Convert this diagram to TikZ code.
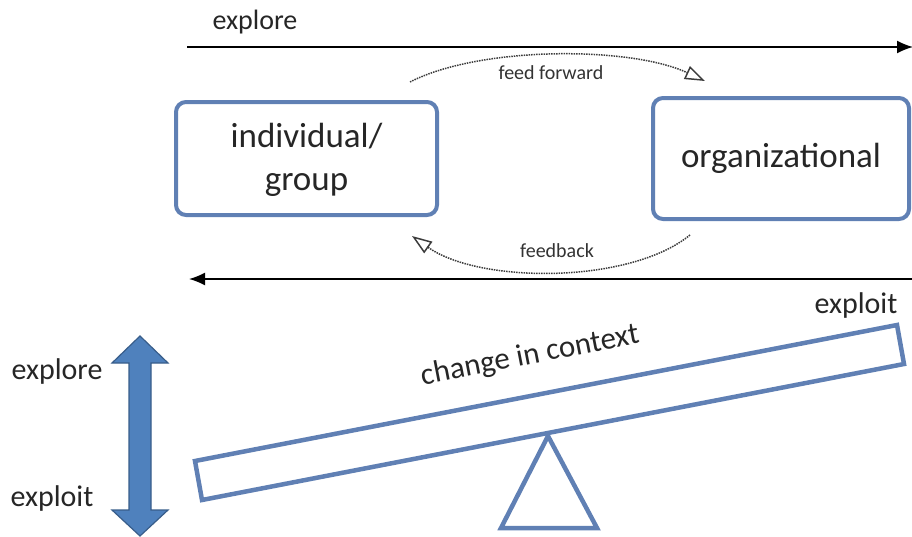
\documentclass[tikz,border=0pt]{standalone}
\usepackage{fontspec}
\setmainfont{Carlito}
\usetikzlibrary{arrows.meta}
\definecolor{boxblue}{RGB}{96,128,180}
\definecolor{arrfill}{RGB}{79,129,189}
\definecolor{arrline}{RGB}{56,93,138}
\definecolor{dotgray}{RGB}{60,60,60}
\tikzset{
  box/.style={draw=boxblue, line width=4pt, rounded corners=10pt, fill=white},
  boxtext/.style={font=\fontsize{35}{43}\selectfont, text=black!85, align=center},
  lbl/.style={font=\fontsize{30}{34}\selectfont, text=black!85, inner sep=0pt},
  small/.style={font=\fontsize{20}{24}\selectfont, text=black!80, inner sep=0pt},
  flow/.style={line width=1.6pt, -{Latex[length=16pt,width=13pt]}},
  loop/.style={draw=dotgray, line width=1.5pt, densely dotted, -{Triangle[open,length=20pt,width=14pt]}},
  plank/.style={draw=boxblue, line width=4.5pt, fill=white, line join=miter},
}
\begin{document}
\begin{tikzpicture}[x=1pt,y=-1pt]
\useasboundingbox (0,0) rectangle (912,536);
% horizontal arrows
\coordinate (tl) at (187,47);
\coordinate (tr) at (913,47);
\coordinate (bl) at (189,279);
\coordinate (br) at (912,279);
\draw[flow] (tl) -- (tr);
\draw[flow] (br) -- (bl);
\node[lbl, font=\fontsize{28}{32}\selectfont] (explTop) at (255,22) {explore};
% boxes
\draw[box] (176,102) rectangle (437,215);
\node[boxtext] (indiv) at (306.5,160) {individual/\\group};
\draw[box] (653,98) rectangle (909,219);
\node[boxtext] (org) at (781,158) {organizational};
% loops
\coordinate (ffs) at (410,82);
\coordinate (ffe) at (705,81);
\draw[loop] (ffs) .. controls (480,46) and (630,46) .. (ffe);
\node[small] (ff) at (551,73) {feed forward};
\coordinate (fbs) at (690,235);
\coordinate (fbe) at (412,236);
\draw[loop] (fbs) .. controls (630,284) and (480,284) .. (fbe);
\node[small] (fb) at (557,251) {feedback};
% double arrow
\draw[fill=arrfill, draw=arrline, line width=1.2pt, line join=miter]
  (140,336) -- (168,363) -- (151,363) -- (151,510) -- (168,510) -- (140,536)
  -- (112,510) -- (129,510) -- (129,363) -- (112,363) -- cycle;
\node[lbl] (explL) at (57,371) {explore};
\node[lbl] (exploitL) at (52,498) {exploit};
% seesaw
\draw[plank] (548,436) -- (597,528) -- (501,528) -- cycle;
\draw[plank] (195,461) -- (897,325) -- (904,364) -- (202,500) -- cycle;
\node[lbl, font=\fontsize{31}{34}\selectfont, rotate=11] (ctx) at (530,356) {change in context};
\node[lbl] (exploitR) at (856,305) {exploit};
\end{tikzpicture}
\end{document}
